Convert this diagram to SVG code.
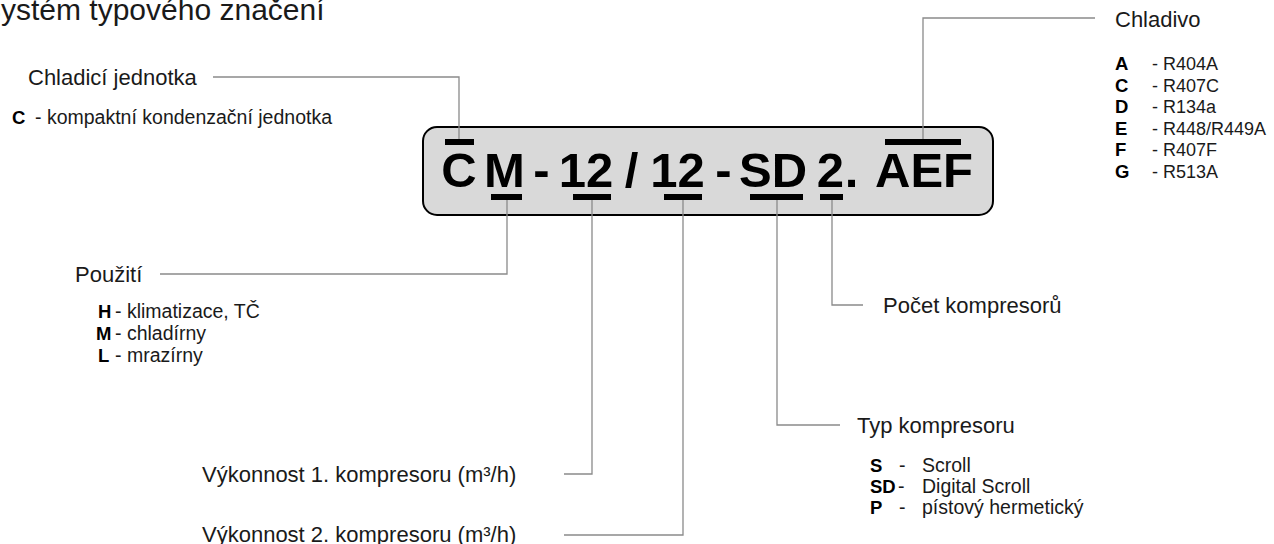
<svg xmlns="http://www.w3.org/2000/svg" width="1274" height="544" viewBox="0 0 1274 544">
<style>
  text { font-family: "Liberation Sans", Arial, sans-serif; fill: #1a1a1a; }
  .title { font-size: 30px; }
  .head { font-size: 22px; }
  .item { font-size: 19.5px; }
  .item2 { font-size: 18px; }
  .key { font-size: 18.5px; font-weight: bold; fill: #000; }
  .code { font-size: 49px; font-weight: bold; fill: #000; text-anchor: middle; }
  .bar { fill: #000; }
  .conn { fill: none; stroke: #8a8a8a; stroke-width: 1.3; }
</style>
<rect width="1274" height="544" fill="#fff"/>
<text class="title" x="-19" y="20">Systém typového značení</text>

<g id="code-box">
  <rect x="423" y="127" width="570" height="88" rx="14" fill="#d9d9d9" stroke="#000" stroke-width="2"/>
  <text class="code" x="459" y="187">C</text>
  <text class="code" x="504.5" y="187">M</text>
  <text class="code" x="541.5" y="187">-</text>
  <text class="code" x="586" y="187">12</text>
  <text class="code" x="631.5" y="187">/</text>
  <text class="code" x="677.5" y="187">12</text>
  <text class="code" x="723.5" y="187">-</text>
  <text class="code" x="773" y="187">SD</text>
  <text class="code" x="830.5" y="187">2</text>
  <text class="code" x="851.5" y="187">.</text>
  <text class="code" x="924" y="187">AEF</text>
  <rect class="bar" x="445" y="139" width="29" height="6"/>
  <rect class="bar" x="885" y="139" width="76" height="6"/>
  <rect class="bar" x="491" y="194" width="31" height="6"/>
  <rect class="bar" x="573" y="194" width="38" height="6"/>
  <rect class="bar" x="664" y="194" width="38" height="6"/>
  <rect class="bar" x="750" y="194" width="53" height="6"/>
  <rect class="bar" x="820" y="194" width="23" height="6"/>
</g>

<g id="connectors">
  <path class="conn" d="M213 77 H459 V139"/>
  <path class="conn" d="M1095 18 H923 V139"/>
  <path class="conn" d="M160 274 H507 V200"/>
  <path class="conn" d="M564 474 H592 V200"/>
  <path class="conn" d="M564 535 H683 V200"/>
  <path class="conn" d="M840 425 H777 V200"/>
  <path class="conn" d="M863 305 H832 V200"/>
</g>

<g id="chladici-jednotka">
  <text class="head" x="28" y="85">Chladicí jednotka</text>
  <text class="key" x="12" y="124">C</text>
  <text class="item" x="35" y="124">- kompaktní kondenzační jednotka</text>
</g>

<g id="chladivo">
  <text class="head" x="1115" y="27">Chladivo</text>
  <text class="key" x="1115" y="70">A</text>
  <text class="item2" x="1152" y="70">- R404A</text>
  <text class="key" x="1115" y="91.5">C</text>
  <text class="item2" x="1152" y="91.5">- R407C</text>
  <text class="key" x="1115" y="113">D</text>
  <text class="item2" x="1152" y="113">- R134a</text>
  <text class="key" x="1115" y="134.5">E</text>
  <text class="item2" x="1152" y="134.5">- R448/R449A</text>
  <text class="key" x="1115" y="156">F</text>
  <text class="item2" x="1152" y="156">- R407F</text>
  <text class="key" x="1115" y="177.5">G</text>
  <text class="item2" x="1152" y="177.5">- R513A</text>
</g>

<g id="pouziti">
  <text class="head" x="75" y="282">Použití</text>
  <text class="key" x="98" y="318">H</text>
  <text class="item" x="115" y="318">- klimatizace, TČ</text>
  <text class="key" x="96" y="340">M</text>
  <text class="item" x="115" y="340">- chladírny</text>
  <text class="key" x="98" y="362">L</text>
  <text class="item" x="115" y="362">- mrazírny</text>
</g>

<g id="pocet-kompresoru">
  <text class="head" x="883" y="313">Počet kompresorů</text>
</g>

<g id="vykonnost-1">
  <text class="head" x="202" y="482">Výkonnost 1. kompresoru (m³/h)</text>
</g>

<g id="vykonnost-2">
  <text class="head" x="202" y="542">Výkonnost 2. kompresoru (m³/h)</text>
</g>

<g id="typ-kompresoru">
  <text class="head" x="857" y="433">Typ kompresoru</text>
  <text class="key" x="870" y="472">S</text>
  <text class="item" x="899" y="472">-</text>
  <text class="item" x="922" y="472">Scroll</text>
  <text class="key" x="870" y="493">SD</text>
  <text class="item" x="898" y="493">-</text>
  <text class="item" x="922" y="493">Digital Scroll</text>
  <text class="key" x="870" y="514">P</text>
  <text class="item" x="899" y="514">-</text>
  <text class="item" x="922" y="514">pístový hermetický</text>
</g>
</svg>
